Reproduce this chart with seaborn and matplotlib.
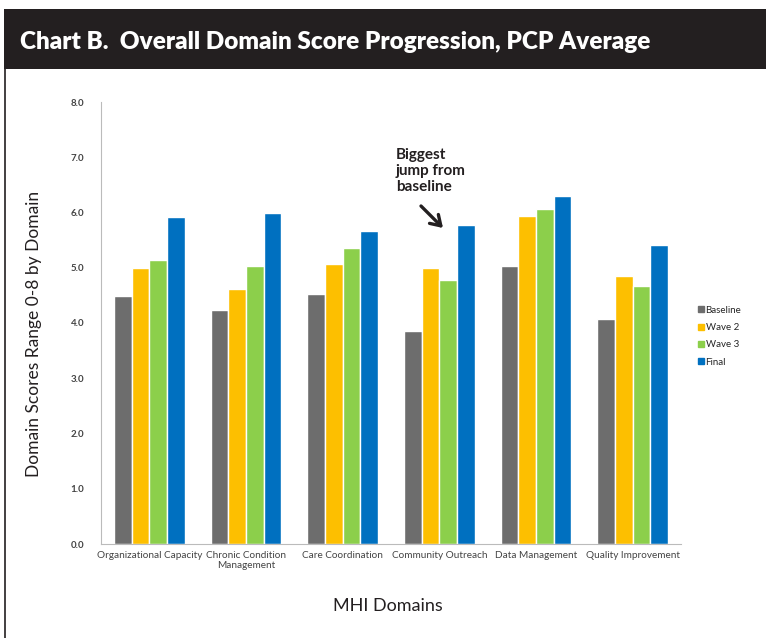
import numpy as np
import pandas as pd
import matplotlib
matplotlib.use("Agg")
import matplotlib.pyplot as plt
from matplotlib.patches import Rectangle
from matplotlib.lines import Line2D
import seaborn as sns

# ================= DATA =================
domains = ["Organizational Capacity", "Chronic Condition\nManagement", "Care Coordination",
           "Community Outreach", "Data Management", "Quality Improvement"]
waves = ["Baseline", "Wave 2", "Wave 3", "Final"]
baseline = [4.49, 4.24, 4.52, 3.86, 5.04, 4.07]
wave2 = [4.99, 4.61, 5.07, 5.00, 5.94, 4.85]
wave3 = [5.14, 5.03, 5.36, 4.78, 6.06, 4.67]
final = [5.92, 5.99, 5.66, 5.77, 6.29, 5.42]
y_ticks = [0, 1, 2, 3, 4, 5, 6, 7, 8]

colors = ["#6d6d6d", "#fdbf00", "#8ccf4b", "#0070c0"]

df = pd.DataFrame({
    "domain": domains * 4,
    "wave": np.repeat(waves, len(domains)),
    "score": baseline + wave2 + wave3 + final,
})

# ================= PLOT =================
sns.set_style("white")
plt.rcParams["font.family"] = ["Lato", "DejaVu Sans"]

fig = plt.figure(figsize=(7.66, 6.38), dpi=100)
ax = fig.add_axes([101 / 766, 1 - 544 / 638, 580 / 766, 442 / 638])

sns.barplot(data=df, x="domain", y="score", hue="wave", palette=colors,
            width=0.73, gap=0, saturation=1, ax=ax, legend=False)

ax.set_ylim(0, 8)
ax.set_xlim(-0.5, len(domains) - 0.5)
ax.set_yticks(y_ticks)
ax.set_yticklabels([f"{v:.1f}" for v in y_ticks], fontsize=7, color="#444444", fontweight="bold")
ax.set_xticks(range(len(domains)))
ax.set_xticklabels(domains, fontsize=7.2, color="#444444")
ax.set_xticks(np.arange(-0.5, len(domains), 1), minor=True)
ax.tick_params(axis="x", which="major", length=0, pad=5)
ax.tick_params(axis="x", which="minor", length=4, color="#bbbbbb", width=0.8)
ax.tick_params(axis="y", length=4, color="#bbbbbb", width=0.8, pad=8)
for s in ["top", "right"]:
    ax.spines[s].set_visible(False)
for s in ["left", "bottom"]:
    ax.spines[s].set_color("#bbbbbb")
    ax.spines[s].set_linewidth(0.8)
ax.set_xlabel("")
ax.set_ylabel("")

# legend
handles = [Line2D([], [], marker="s", ls="", color=c, markersize=4) for c in colors]
ax.legend(handles, waves, loc="upper left", bbox_to_anchor=(692 / 766, 1 - 301 / 638),
          bbox_transform=fig.transFigure, frameon=False, handletextpad=0.1,
          labelspacing=0.85, handlelength=0.8, borderpad=0, prop={"size": 7})

# annotation
ax.annotate("", xy=(443 / 766, 1 - 228 / 638), xytext=(421 / 766, 1 - 206 / 638),
            xycoords="figure fraction", textcoords="figure fraction",
            arrowprops=dict(arrowstyle="->,head_length=0.7,head_width=0.45", lw=2.4,
                            color="#231f20", shrinkA=0, shrinkB=0))
fig.text(396 / 766, 1 - 148 / 638, "Biggest\njump from\nbaseline", fontsize=11, fontweight="bold",
         color="#231f20", va="top", ha="left", linespacing=1.2)

# header band and frame
fig.patches.append(Rectangle((4 / 766, 1 - 69 / 638), 1, 60 / 638, transform=fig.transFigure,
                             facecolor="#231f20", edgecolor="none", zorder=0))
fig.lines.append(Line2D([4.5 / 766, 4.5 / 766], [0, 1 - 69 / 638], transform=fig.transFigure,
                        color="#231f20", lw=1.2))
fig.text(20 / 766, 1 - 42 / 638, "Chart B.  Overall Domain Score Progression, PCP Average",
         color="white", fontsize=17.5, fontweight="heavy", va="center", ha="left")

fig.text(34 / 766, 1 - 334 / 638, "Domain Scores Range 0-8 by Domain", rotation=90,
         fontsize=12.5, color="#231f20", va="center", ha="center")
fig.text(388 / 766, 1 - 606 / 638, "MHI Domains", fontsize=13, color="#231f20",
         va="center", ha="center")

fig.savefig("out.png", dpi=100)
